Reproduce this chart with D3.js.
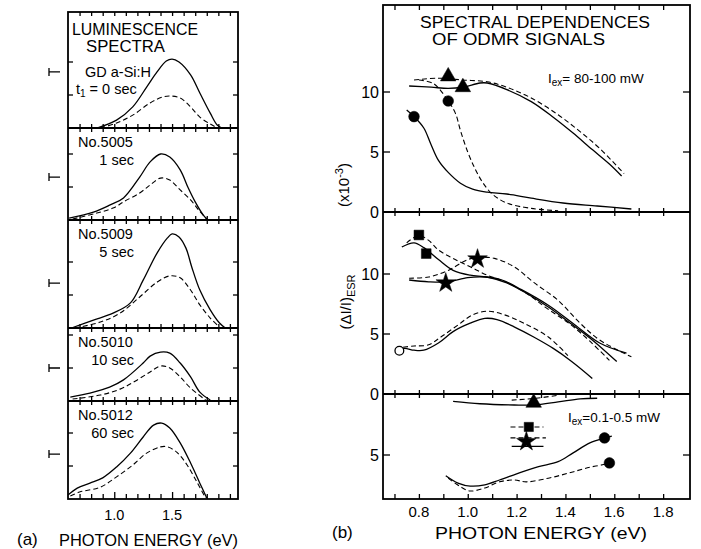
<!DOCTYPE html>
<html>
<head>
<meta charset="utf-8">
<script src="https://cdn.jsdelivr.net/npm/d3@7"></script>
<style>
  body { margin: 0; background: #fff; }
  svg { display: block; }
  text { font-family: "Liberation Sans", Arial, sans-serif; fill: #000; }
  .frame { fill: none; stroke: #000; stroke-width: 1.8; }
  .solid { fill: none; stroke: #000; stroke-width: 1.3; }
  .dash { fill: none; stroke: #000; stroke-width: 1.1; stroke-dasharray: 5,3; }
  .tick line, .tk { stroke: #000; stroke-width: 1.3; }
</style>
</head>
<body>
<svg width="701" height="549"></svg>
<script>
(function (d3) {
  'use strict';

  // ---- (a) luminescence spectra: [photon energy eV, intensity arb.]
  const lumLabels = [
    ['GD a-Si:H', 't1 = 0 sec'],
    ['No.5005', '1 sec'],
    ['No.5009', '5 sec'],
    ['No.5010', '10 sec'],
    ['No.5012', '60 sec']
  ];
  const lum0Solid = [[0.85,0],[1.02,0.24],[1.16,0.64],[1.28,1.24],[1.37,1.70],[1.45,2.03],[1.50,2.09],[1.56,2.0],[1.66,1.61],[1.74,1.06],[1.83,0.45],[1.89,0.09],[1.93,0]];
  const lum0Dash = [[0.88,0],[1.02,0.15],[1.16,0.39],[1.31,0.76],[1.42,0.94],[1.48,0.97],[1.57,0.91],[1.66,0.64],[1.74,0.33],[1.83,0.12],[1.89,0]];
  const lum1Solid = [[0.61,0.06],[0.82,0.24],[0.96,0.45],[1.08,0.67],[1.22,1.30],[1.31,1.76],[1.40,2.0],[1.48,1.91],[1.57,1.52],[1.64,0.97],[1.70,0.55],[1.77,0.15],[1.81,0]];
  const lum1Dash = [[0.64,0.03],[0.85,0.21],[0.99,0.36],[1.08,0.55],[1.22,0.82],[1.31,1.06],[1.40,1.27],[1.48,1.21],[1.57,0.91],[1.66,0.61],[1.73,0.30],[1.80,0.03]];
  const lum2Solid = [[0.63,0],[0.82,0.24],[0.99,0.45],[1.14,0.76],[1.25,1.45],[1.37,2.27],[1.46,2.73],[1.50,2.85],[1.56,2.76],[1.62,2.42],[1.67,1.85],[1.74,1.15],[1.83,0.55],[1.91,0.15],[1.96,0]];
  const lum2Dash = [[0.66,0],[0.88,0.18],[1.05,0.45],[1.22,0.94],[1.37,1.39],[1.48,1.58],[1.57,1.52],[1.66,1.15],[1.74,0.70],[1.83,0.30],[1.91,0.03]];
  const lum3Solid = [[0.62,0.12],[0.79,0.24],[0.96,0.42],[1.08,0.64],[1.25,1.15],[1.31,1.36],[1.40,1.48],[1.48,1.45],[1.57,1.15],[1.66,0.73],[1.74,0.27],[1.83,0.03]];
  const lum3Dash = [[0.64,0.06],[0.88,0.18],[1.05,0.36],[1.18,0.6],[1.31,0.88],[1.40,1.06],[1.48,1.0],[1.57,0.73],[1.66,0.39],[1.79,0.03]];
  const lum4Solid = [[0.60,0.12],[0.68,0.33],[0.79,0.48],[0.90,0.64],[1.02,0.97],[1.14,1.39],[1.25,1.88],[1.34,2.24],[1.41,2.30],[1.48,2.15],[1.57,1.70],[1.66,1.09],[1.74,0.48],[1.80,0.03]];
  const lum4Dash = [[0.62,0.09],[0.70,0.21],[0.88,0.36],[1.02,0.67],[1.16,1.03],[1.28,1.39],[1.40,1.58],[1.46,1.58],[1.54,1.42],[1.63,1.03],[1.72,0.48],[1.79,0.03]];
  const lumSolid = [lum0Solid, lum1Solid, lum2Solid, lum3Solid, lum4Solid];
  const lumDash = [lum0Dash, lum1Dash, lum2Dash, lum3Dash, lum4Dash];
  const lumScaleMarks = [1.7, 1.3, 1.36, 1.0, 1.36];
  const lumTickLabels = [1.0, 1.5];

  // ---- (b) ODMR signals: [photon energy eV, dI/I x10^-3]
  const topTriSolid = [[0.76,10.5],[0.85,10.4],[0.92,10.3],[0.98,10.4],[1.05,10.75],[1.08,10.75],[1.16,10.2],[1.26,9.2],[1.35,7.9],[1.43,6.6],[1.51,5.2],[1.58,4.0],[1.63,3.0]];
  const topTriDash = [[0.78,11.0],[0.88,11.15],[0.98,11.0],[1.08,10.85],[1.16,10.4],[1.26,9.5],[1.37,8.1],[1.46,6.7],[1.54,5.3],[1.64,3.2]];
  const topCircSolid = [[0.75,8.5],[0.78,7.95],[0.82,7.0],[0.85,5.6],[0.88,4.3],[0.92,3.3],[0.97,2.4],[1.02,1.9],[1.08,1.65],[1.16,1.5],[1.26,1.15],[1.39,0.75],[1.53,0.5],[1.67,0.25]];
  const topCircDash = [[0.80,11.0],[0.86,10.7],[0.92,9.25],[0.95,8.2],[0.97,6.8],[1.0,5.0],[1.03,3.6],[1.06,2.5],[1.10,1.5],[1.16,0.75],[1.26,0.3],[1.37,0.1]];
  const topTriangles = [[0.92,11.3],[0.98,10.4]];
  const topCircles = [[0.78,7.95],[0.92,9.25]];

  const midSqSolid = [[0.73,12.25],[0.78,12.6],[0.82,12.2],[0.88,11.2],[0.94,10.3],[1.01,9.9],[1.08,9.75],[1.16,9.25],[1.24,8.4],[1.33,7.25],[1.42,5.9],[1.51,4.5],[1.61,2.7]];
  const midSqDash = [[0.75,12.6],[0.80,13.2],[0.84,12.8],[0.88,12.0],[0.94,11.3],[1.01,10.6],[1.08,9.9],[1.16,9.3],[1.24,8.4],[1.32,7.2],[1.42,5.8],[1.50,4.4],[1.58,2.8]];
  const midStarSolid = [[0.76,9.5],[0.84,9.35],[0.92,9.35],[1.0,9.7],[1.07,9.75],[1.14,9.5],[1.22,8.7],[1.33,7.4],[1.43,5.9],[1.54,4.25],[1.65,3.4]];
  const midStarDash = [[0.76,9.65],[0.84,9.75],[0.92,10.3],[1.0,11.2],[1.05,11.4],[1.11,11.3],[1.19,10.6],[1.27,9.3],[1.37,7.8],[1.46,5.9],[1.54,4.5],[1.67,3.1]];
  const midOpenSolid = [[0.72,3.6],[0.74,3.8],[0.78,3.65],[0.82,3.65],[0.88,4.25],[0.94,5.2],[1.01,5.9],[1.07,6.3],[1.12,6.2],[1.19,5.6],[1.27,4.75],[1.35,3.8],[1.42,2.8],[1.51,1.3]];
  const midOpenDash = [[0.735,3.9],[0.78,4.0],[0.84,4.1],[0.89,4.75],[0.96,5.75],[1.02,6.6],[1.08,6.9],[1.15,6.6],[1.23,5.9],[1.33,4.75],[1.41,3.2]];
  const midSquares = [[0.80,13.25],[0.83,11.7]];
  const midStars = [[0.91,9.25],[1.04,11.25]];
  const midOpen = [[0.72,3.6]];

  const botTriSolid = [[0.94,0.6],[1.05,0.8],[1.19,0.9],[1.27,0.9],[1.37,0.65],[1.46,0.4],[1.53,0.35]];
  const botTriDash = [[1.18,0.5],[1.28,0.35],[1.37,0.1]];
  const botSqDash = [[1.175,2.7],[1.31,2.7]];
  const botStarDash = [[1.175,3.6],[1.32,3.6]];
  const botStarSolid = [[1.18,4.3],[1.31,4.3]];
  const botCircSolid = [[0.91,6.7],[0.96,7.3],[1.01,7.55],[1.07,7.45],[1.13,7.05],[1.22,6.4],[1.29,5.95],[1.37,5.55],[1.43,4.85],[1.50,4.0],[1.56,3.6],[1.59,3.45]];
  const botCircDash = [[0.92,6.9],[0.97,7.6],[1.01,7.95],[1.07,7.7],[1.13,7.2],[1.19,7.05],[1.24,7.2],[1.33,6.9],[1.41,6.5],[1.49,6.05],[1.58,5.65],[1.60,5.4]];
  const botTriangles = [[1.27,0.72]];
  const botSquares = [[1.25,2.7]];
  const botStars = [[1.24,3.9]];
  const botCircles = [[1.56,3.6],[1.58,5.65]];

  const odmrTicks = [0.8, 1.0, 1.2, 1.4, 1.6, 1.8];

  const svg = d3.select('svg');
  const smooth = d3.curveCatmullRom.alpha(0.5);

  const addText = (x, y, str, opts = {}) => {
    const t = svg.append('text')
      .attr('x', x).attr('y', y)
      .attr('font-size', opts.size || 14)
      .attr('text-anchor', opts.anchor || 'start')
      .text(str);
    if (opts.len) t.attr('textLength', opts.len).attr('lengthAdjust', 'spacingAndGlyphs');
    return t;
  };

  // ================= panel (a) =================
  const aLeft = 68, aRight = 238;
  const aPanels = [[12, 128], [128, 220], [220, 328], [328, 401], [401, 499]];
  const xA = d3.scaleLinear().domain([0.6, 2.07]).range([aLeft, aRight]);
  const unitA = 33;
  const xTicksA = d3.range(0.7, 2.05, 0.1);

  aPanels.forEach(([top, bottom], i) => {
    const yA = d3.scaleLinear().domain([0, 1]).range([bottom, bottom - unitA]);
    const line = d3.line()
      .x(d => xA(d[0]))
      .y(d => Math.min(bottom, yA(d[1])))
      .curve(smooth);
    svg.append('path').attr('class', 'solid').attr('d', line(lumSolid[i]));
    svg.append('path').attr('class', 'dash').attr('d', line(lumDash[i]))
      .attr('stroke-dasharray', '4,3');

    // y ticks at 1 and 2 units, inward on both sides
    [1, 2].forEach(v => {
      const y = yA(v);
      if (y <= top + 1) return;
      svg.append('line').attr('class', 'tk')
        .attr('x1', aLeft).attr('x2', aLeft + 5).attr('y1', y).attr('y2', y);
      svg.append('line').attr('class', 'tk')
        .attr('x1', aRight - 5).attr('x2', aRight).attr('y1', y).attr('y2', y);
    });

    // scale mark outside to the left
    const ym = yA(lumScaleMarks[i]);
    svg.append('path').attr('class', 'tk').attr('fill', 'none')
      .attr('stroke-width', 1.6)
      .attr('d', `M49,${ym - 4}V${ym + 4}M49,${ym}H60`);

    // x ticks along the bottom of each panel
    const ax = d3.axisBottom(xA).tickValues(xTicksA).tickSize(4).tickFormat('');
    const g = svg.append('g').attr('transform', `translate(0,${bottom})`).call(ax);
    g.select('.domain').remove();
    if (i < aPanels.length - 1) {
      g.selectAll('.tick line').attr('y1', -4).attr('y2', 4);
    } else {
      g.selectAll('.tick line').attr('y1', 0).attr('y2', d => (Math.abs(d - 1) < 1e-6 || Math.abs(d - 1.5) < 1e-6) ? -7 : -5);
    }

    const [l1, l2] = lumLabels[i];
    if (i === 0) {
      addText(85, 77, l1, { size: 14.5 });
      const t2 = svg.append('text').attr('x', 76).attr('y', 94).attr('font-size', 14.5);
      t2.append('tspan').text('t');
      t2.append('tspan').attr('font-size', 10).attr('dy', 3).text('1');
      t2.append('tspan').attr('dy', -3).text(' = 0 sec');
    } else {
      addText(78, top + 19, l1, { size: 14.5 });
      addText(134, top + 37, l2, { size: 14.5, anchor: 'end' });
    }
  });

  // top ticks of panel (a)
  svg.append('g').attr('transform', `translate(0,${aPanels[0][0]})`)
    .call(d3.axisTop(xA).tickValues(xTicksA).tickSize(4).tickFormat(''))
    .call(g => g.select('.domain').remove())
    .selectAll('.tick line').attr('y1', 0).attr('y2', 4);

  svg.append('rect').attr('class', 'frame')
    .attr('x', aLeft).attr('y', aPanels[0][0])
    .attr('width', aRight - aLeft).attr('height', aPanels[4][1] - aPanels[0][0]);
  aPanels.slice(1).forEach(([top]) => {
    svg.append('line').attr('class', 'frame')
      .attr('x1', aLeft).attr('x2', aRight).attr('y1', top).attr('y2', top);
  });

  addText(72, 35, 'LUMINESCENCE', { size: 16, len: 126 });
  addText(86, 52, 'SPECTRA', { size: 16, len: 79 });

  lumTickLabels.forEach(v => addText(xA(v), 520, d3.format('.1f')(v), { size: 14.5, anchor: 'middle' }));
  addText(17, 545, '(a)', { size: 17 });
  addText(59, 546, 'PHOTON ENERGY (eV)', { size: 16, len: 179 });

  // ================= panel (b) =================
  const bLeft = 383, bRight = 690, bTop = 5, bBottom = 499;
  const xB = d3.scaleLinear().domain([0.653, 1.91]).range([bLeft, bRight]);
  const yTop = d3.scaleLinear().domain([0, 10]).range([212, 92]);
  const yMid = d3.scaleLinear().domain([0, 10]).range([394, 274]);
  const yBot = d3.scaleLinear().domain([0, 5]).range([394, 455]);
  const xTicksB = d3.range(0.7, 1.85, 0.1);

  const mkLine = ys => d3.line().x(d => xB(d[0])).y(d => ys(d[1])).curve(smooth);
  const lt = mkLine(yTop), lm = mkLine(yMid), lb = mkLine(yBot);

  [[topTriSolid, lt, 'solid'], [topTriDash, lt, 'dash'], [topCircSolid, lt, 'solid'], [topCircDash, lt, 'dash'],
   [midSqSolid, lm, 'solid'], [midSqDash, lm, 'dash'], [midStarSolid, lm, 'solid'], [midStarDash, lm, 'dash'],
   [midOpenSolid, lm, 'solid'], [midOpenDash, lm, 'dash'],
   [botTriSolid, lb, 'solid'], [botTriDash, lb, 'dash'], [botSqDash, lb, 'dash'], [botStarDash, lb, 'dash'],
   [botStarSolid, lb, 'solid'], [botCircSolid, lb, 'solid'], [botCircDash, lb, 'dash']
  ].forEach(([data, gen, cls]) => {
    svg.append('path').attr('class', cls).attr('d', gen(data));
  });

  const markers = (data, ys, type, size, open) => {
    svg.append('g').selectAll('path').data(data).enter().append('path')
      .attr('transform', d => `translate(${xB(d[0])},${ys(d[1])})`)
      .attr('d', d3.symbol().type(type).size(size))
      .attr('fill', open ? '#fff' : '#000')
      .attr('stroke', '#000').attr('stroke-width', open ? 1.3 : 0.5);
  };
  markers(topTriangles, yTop, d3.symbolTriangle, 105);
  markers(topCircles, yTop, d3.symbolCircle, 90);
  markers(midSquares, yMid, d3.symbolSquare, 95);
  markers(midStars, yMid, d3.symbolStar, 120);
  markers(midOpen, yMid, d3.symbolCircle, 60, true);
  markers(botTriangles, yBot, d3.symbolTriangle, 105);
  markers(botSquares, yBot, d3.symbolSquare, 85);
  markers(botStars, yBot, d3.symbolStar, 120);
  markers(botCircles, yBot, d3.symbolCircle, 90);

  // frame and zero lines with crossing ticks
  svg.append('rect').attr('class', 'frame')
    .attr('x', bLeft).attr('y', bTop).attr('width', bRight - bLeft).attr('height', bBottom - bTop);
  [212, 394].forEach(y => {
    svg.append('line').attr('class', 'frame')
      .attr('x1', bLeft).attr('x2', bRight).attr('y1', y).attr('y2', y);
    svg.append('g').attr('transform', `translate(0,${y})`)
      .call(d3.axisBottom(xB).tickValues(xTicksB).tickSize(4).tickFormat(''))
      .call(g => g.select('.domain').remove())
      .selectAll('.tick line').attr('y1', -4).attr('y2', 4);
  });
  svg.append('g').attr('transform', `translate(0,${bTop})`)
    .call(d3.axisBottom(xB).tickValues(xTicksB).tickSize(5).tickFormat(''))
    .call(g => g.select('.domain').remove());
  svg.append('g').attr('transform', `translate(0,${bBottom})`)
    .call(d3.axisTop(xB).tickValues(xTicksB).tickSize(5).tickFormat(''))
    .call(g => g.select('.domain').remove());
  odmrTicks.forEach(v => addText(xB(v), 517, d3.format('.1f')(v), { size: 15, anchor: 'middle' }));

  // y ticks
  const yTickSets = [[yTop, [0, 5, 10]], [yMid, [0, 5, 10]], [yBot, [5]]];
  yTickSets.forEach(([ys, vals]) => {
    vals.forEach(v => {
      const y = ys(v);
      if (v !== 0) {
        svg.append('line').attr('class', 'tk').attr('x1', bLeft).attr('x2', bLeft + 7).attr('y1', y).attr('y2', y);
        svg.append('line').attr('class', 'tk').attr('x1', bRight - 7).attr('x2', bRight).attr('y1', y).attr('y2', y);
      }
      addText(bLeft - 4, y + 5.5, String(v), { size: 16, anchor: 'end' });
    });
  });

  // texts
  addText(420, 28, 'SPECTRAL DEPENDENCES', { size: 16, len: 230 });
  addText(432, 45, 'OF ODMR SIGNALS', { size: 16, len: 173 });

  const iex = (x, y, rest) => {
    const t = svg.append('text').attr('x', x).attr('y', y).attr('font-size', 13.5);
    t.append('tspan').text('I');
    t.append('tspan').attr('font-size', 10).attr('dy', 3).text('ex');
    t.append('tspan').attr('dy', -3).text(rest);
  };
  iex(548, 83, '= 80-100 mW');
  iex(568, 422, '=0.1-0.5 mW');

  const yl1 = svg.append('text').attr('font-size', 15).attr('text-anchor', 'middle')
    .attr('transform', 'translate(349,185) rotate(-90)');
  yl1.append('tspan').text('(x10');
  yl1.append('tspan').attr('font-size', 11).attr('dy', -6).text('-3');
  yl1.append('tspan').attr('dy', 6).text(')');

  const yl2 = svg.append('text').attr('font-size', 15).attr('text-anchor', 'middle')
    .attr('transform', 'translate(351,302) rotate(-90)');
  yl2.append('tspan').text('(\u0394I/I)');
  yl2.append('tspan').attr('font-size', 11).attr('dy', 4).text('ESR');

  addText(332, 538, '(b)', { size: 17 });
  addText(435, 539, 'PHOTON   ENERGY   (eV)', { size: 16, len: 212 });

}(d3));
</script>
</body>
</html>
